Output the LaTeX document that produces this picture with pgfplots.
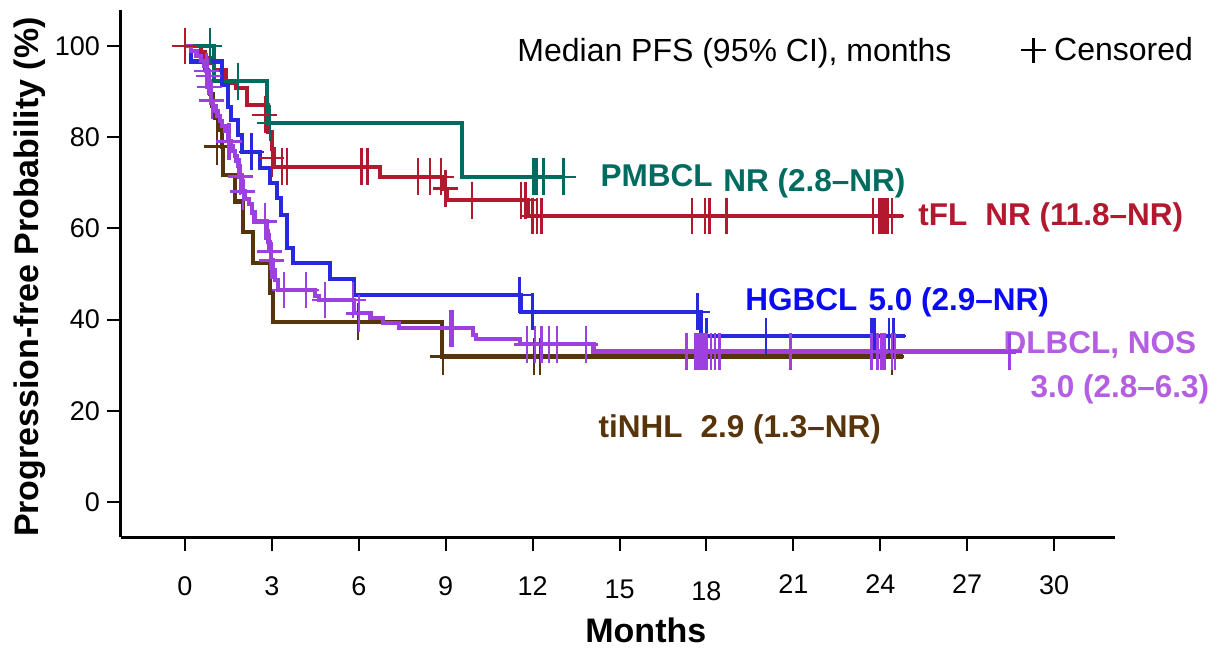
\documentclass[border=0pt]{standalone}
\usepackage{fontspec}
\setmainfont{Liberation Sans}
\usepackage{pgfplots}
\pgfplotsset{compat=1.18}
\definecolor{cPM}{RGB}{0,107,94}
\definecolor{cTFL}{RGB}{178,24,46}
\definecolor{cHG}{RGB}{40,40,220}
\definecolor{cHGt}{RGB}{10,10,245}
\definecolor{cDL}{RGB}{158,64,224}
\definecolor{cDLt}{RGB}{180,94,226}
\definecolor{cTI}{RGB}{88,52,10}
\newcommand\tl[2]{\raisebox{#1}[12pt][0pt]{#2}}
\begin{document}
\begin{tikzpicture}
\begin{axis}[
  scale only axis, width=497pt, height=263.5pt,
  xmin=-2.21, xmax=32.1, ymin=-7.68, ymax=107.9,
  axis x line*=bottom, axis y line*=left,
  axis line style={line width=1.5pt, -},
  xtick={0,3,...,30}, ytick={0,20,...,100},
  xticklabels={\tl{0pt}{0},\tl{0pt}{3},\tl{0pt}{6},\tl{0pt}{9},\tl{0pt}{12},\tl{-1.8pt}{15},\tl{-2.5pt}{18},\tl{1pt}{21},\tl{1pt}{24},\tl{1pt}{27},\tl{0.5pt}{30}},
  xticklabel style={yshift=-6.5pt},
  tick align=outside, major tick length=7pt,
  every tick/.style={black, line width=1pt},
  /pgf/number format/assume math mode=true,
  ticklabel style={font=\fontsize{13.5}{16}\selectfont},
  clip=false,
  legend style={draw=none, fill=none, inner sep=0pt, outer sep=0pt,
    font=\fontsize{16}{19}\selectfont, at={(0.9044,0.924)}, anchor=west,
    /tikz/every odd column/.append style={column sep=1.5pt}},
  km/.style={const plot, line width=2.1pt, mark=none},
  cens/.style={only marks, mark=+, mark size=9.2pt, mark options={solid, xscale=0.68, line width=1.3pt}},
]
\addlegendimage{legend image code/.code={\draw[black,line width=1.1pt] (0pt,0pt)--(12.5pt,0pt) (6.25pt,-6.25pt)--(6.25pt,6.25pt);}}
\addlegendentry{Censored}

% tiNHL
\addplot[km, cTI] coordinates {(0,100)(0.55,97.4)(0.7,94.7)(0.8,92.1)(0.87,89.5)(0.95,86.8)(1.05,84.2)(1.15,81.6)(1.27,77.9)(1.31,71.7)(1.73,65.9)(1.99,59.2)(2.34,52.5)(2.93,45.8)(3.05,39.5)(8.86,31.9)(24.8,31.9)};
\addplot[cens, cTI] coordinates {(1.1,78)(5.97,39.5)(8.9,31.9)(12.05,31.9)(12.25,31.9)(24.4,31.9)};

% tFL
\addplot[km, cTFL] coordinates {(0,100)(0.55,98.6)(0.7,97.4)(0.85,96.3)(1.0,94.7)(1.4,91.9)(1.75,90.8)(2.14,87.0)(2.87,81.2)(3.0,77.5)(3.08,73.5)(6.73,71.3)(8.95,68.7)(9.05,66.2)(11.85,62.7)(24.8,62.7)};
\addplot[cens, cTFL] coordinates {(0,100)(2.76,84.9)(3.0,75.4)(3.35,73.5)(3.52,73.5)(6.1,73.5)(6.3,73.5)(8.04,71.3)(8.46,71.3)(8.84,71.3)(9.0,68.7)(9.9,66.2)(11.6,66.2)(11.75,66.2)(12.0,62.7)(12.15,62.7)(12.3,62.7)(17.5,62.7)(17.95,62.7)(18.1,62.7)(18.7,62.7)(23.75,62.7)(23.95,62.7)(24.05,62.7)(24.15,62.7)(24.25,62.7)(24.4,62.7)};

% PMBCL
\addplot[km, cPM] coordinates {(0,100)(1.0,92.3)(2.83,83.1)(9.56,71.3)(13.05,71.3)};
\addplot[cens, cPM] coordinates {(0.86,100)(1.83,92.3)(2.93,83.1)(12.02,71.3)(12.08,71.3)(12.13,71.3)(12.37,71.3)(13.06,71.3)};

% HGBCL
\addplot[km, cHG] coordinates {(0,100)(0.2,96.6)(1.27,91.4)(1.48,86.7)(1.6,83.8)(1.84,80.5)(1.96,76.8)(2.59,73.2)(2.93,70.0)(3.17,66.7)(3.31,63.0)(3.52,55.7)(3.73,52.4)(5.0,48.9)(5.83,45.4)(11.6,41.7)(17.8,36.4)(24.85,36.4)};
\addplot[cens, cHG] coordinates {(2.3,76.8)(11.55,45.4)(12.0,41.7)(17.7,41.7)(18.0,36.4)(20.05,36.4)(23.7,36.4)(23.8,36.4)(24.3,36.4)(24.45,36.4)};

% DLBCL, NOS
\addplot[km, cDL] coordinates {(0,100)(0.2,98.9)(0.4,97.8)(0.55,96.7)(0.65,95.6)(0.72,94.5)(0.78,93.4)(0.83,92.3)(0.87,90.1)(0.9,88.0)(0.97,86.8)(1.05,85.7)(1.12,84.6)(1.2,83.5)(1.28,82.4)(1.38,81.3)(1.5,79.1)(1.58,78.0)(1.65,76.9)(1.72,75.8)(1.78,74.7)(1.83,73.6)(1.88,71.4)(1.95,70.3)(2.0,68.1)(2.07,66.5)(2.2,65.4)(2.3,63.5)(2.4,61.5)(2.82,59.3)(2.87,57.1)(2.92,55.0)(2.97,53.0)(3.03,50.8)(3.1,48.7)(3.22,46.5)(4.49,45.2)(4.62,44.3)(5.83,41.4)(6.4,40.3)(6.83,39.2)(7.4,38.1)(9.94,36.6)(10.05,35.7)(11.56,34.6)(14.1,33.0)(28.7,33.0)};
\addplot[cens, cDL] coordinates {(0.75,94.5)(0.8,93.4)(0.86,91)(0.93,88)(1.5,79.1)(1.55,79.1)(1.9,71.4)(2.0,68.1)(2.76,61.5)(2.93,55.0)(2.99,53.0)(3.42,46.5)(4.18,46.5)(4.83,44.3)(5.8,44.3)(6.0,41.4)(9.15,38.1)(9.24,38.1)(11.8,34.6)(12.08,34.6)(12.3,34.6)(12.57,34.6)(12.84,34.6)(13.84,34.6)(17.3,33)(17.6,33)(17.7,33)(17.8,33)(17.9,33)(18.0,33)(18.15,33)(18.3,33)(18.45,33)(20.9,33)(23.7,33)(23.9,33)(24.05,33)(24.15,33)(24.4,33)(24.5,33)(28.45,33)};

\coordinate (bbll) at (rel axis cs:-0.1217,-0.2125);
\coordinate (bbur) at (rel axis cs:1.1117,1.019);

\node[anchor=base west, inner sep=0, font=\fontsize{16}{19}\selectfont] at (axis cs:11.46,96.7) {Median PFS (95\% CI), months};
\begin{scope}[every node/.style={anchor=base west, inner sep=0, font=\bfseries\fontsize{15.75}{18}\selectfont}]
\node[text=cPM] at (axis cs:14.33,69.1) {PMBCL};
\node[text=cPM] at (axis cs:18.57,68.0) {NR (2.8–NR)};
\node[text=cTFL] at (axis cs:25.30,60.7) {tFL};
\node[text=cTFL] at (axis cs:27.61,60.7) {NR (11.8–NR)};
\node[text=cHGt] at (axis cs:19.33,42.1) {HGBCL};
\node[text=cHGt] at (axis cs:23.58,42.1) {5.0 (2.9–NR)};
\node[text=cDLt] at (axis cs:28.24,32.5) {DLBCL, NOS};
\node[text=cDLt] at (axis cs:29.17,23.0) {3.0 (2.8–6.3)};
\node[text=cTI] at (axis cs:14.26,14.25) {tiNHL};
\node[text=cTI] at (axis cs:17.78,14.25) {2.9 (1.3–NR)};
\end{scope}
\node[rotate=90, anchor=center, inner sep=0, font=\bfseries\fontsize{17}{20}\selectfont] at (rel axis cs:-0.0915,0.493) {Progression-free Probability (\%)};
\node[anchor=center, inner sep=0, font=\bfseries\fontsize{17}{20}\selectfont] at (rel axis cs:0.528,-0.178) {Months};
\end{axis}
\pgfresetboundingbox
\path (bbll) rectangle (bbur);
\end{tikzpicture}
\end{document}
